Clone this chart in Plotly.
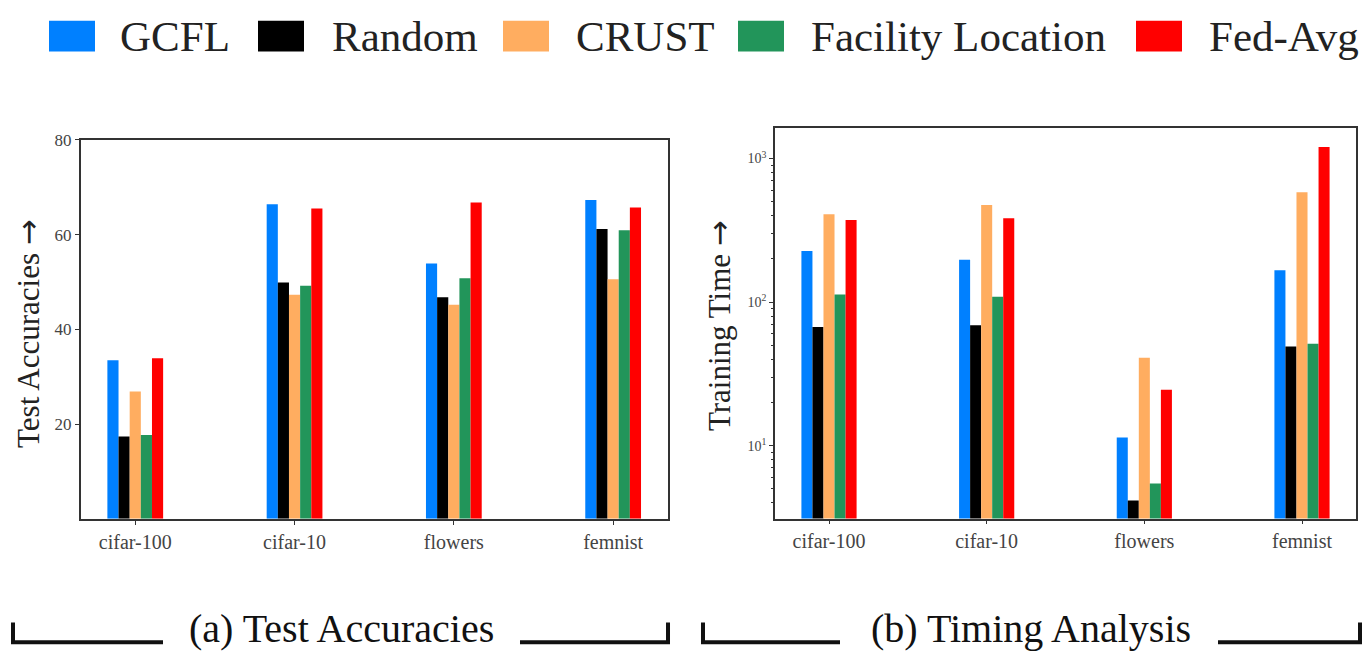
import plotly.graph_objects as go

W, H = 1363, 653

categories = ["cifar-100", "cifar-10", "flowers", "femnist"]
methods = ["GCFL", "Random", "CRUST", "Facility Location", "Fed-Avg"]
colors = ["#0080ff", "#000000", "#ffad60", "#22955a", "#ff0000"]

acc_gcfl = [33.5, 66.4, 53.9, 67.3]
acc_random = [17.4, 49.9, 46.8, 61.2]
acc_crust = [26.9, 47.3, 45.2, 50.6]
acc_facility = [17.7, 49.2, 50.8, 60.9]
acc_fedavg = [33.9, 65.5, 66.8, 65.7]

time_gcfl = [227, 197, 11.4, 167]
time_random = [67, 69, 4.16, 49]
time_crust = [409, 474, 41, 582]
time_facility = [113, 109, 5.46, 51.4]
time_fedavg = [374, 384, 24.5, 1205]

acc_ticks = [20, 40, 60, 80]
time_ticks = [10, 100, 1000]
time_ticktext = ["10<sup>1</sup>", "10<sup>2</sup>", "10<sup>3</sup>"]

acc_series = [acc_gcfl, acc_random, acc_crust, acc_facility, acc_fedavg]
time_series = [time_gcfl, time_random, time_crust, time_facility, time_fedavg]

SERIF = "Liberation Serif, Times New Roman, serif"
ARROW = "<span style='font-family:DejaVu Sans'>→</span>"


def px(x):
    return x / W


def py(y):
    return 1 - y / H


fig = go.Figure()
for name, col, vals in zip(methods, colors, acc_series):
    fig.add_trace(go.Bar(x=categories, y=vals, name=name, marker=dict(color=col, line=dict(width=0)),
                         xaxis="x", yaxis="y", offsetgroup=name, showlegend=False))
for name, col, vals in zip(methods, colors, time_series):
    fig.add_trace(go.Bar(x=categories, y=vals, name=name, marker=dict(color=col, line=dict(width=0)),
                         xaxis="x2", yaxis="y2", offsetgroup=name, showlegend=False))

axis_common = dict(showgrid=False, zeroline=False, showline=True, mirror=True,
                   linecolor="#333", linewidth=1.5, ticks="outside", ticklen=4,
                   tickcolor="#333")

xr = [-0.3425, 3.3425]
fig.update_layout(
    width=W, height=H, autosize=False,
    margin=dict(l=0, r=0, t=0, b=0),
    paper_bgcolor="white", plot_bgcolor="white",
    barmode="group", bargap=0.65, bargroupgap=0,
    font=dict(family=SERIF, color="#222"),
    xaxis=dict(domain=[px(80.7), px(667.7)], anchor="y", range=xr,
               tickfont=dict(size=20, color="#444"), **axis_common),
    yaxis=dict(domain=[py(517), py(132.7)], anchor="x", range=[0, 80],
               tickvals=acc_ticks, tickfont=dict(size=17, color="#444"), **axis_common),
    xaxis2=dict(domain=[px(775), px(1356)], anchor="y2", range=xr,
                tickfont=dict(size=20, color="#444"), **axis_common),
    yaxis2=dict(domain=[py(516.7), py(121)], anchor="x2", type="log",
                range=[0.4925, 3.2106], tickvals=time_ticks, ticktext=time_ticktext,
                tickfont=dict(size=14, color="#444"),
                minor=dict(ticks="outside", ticklen=2, tickcolor="#333",
                           tickvals=[m * d for d in (1, 10, 100, 1000) for m in range(2, 10)]),
                **axis_common),
)

# Axis titles
fig.add_annotation(text="Test Accuracies " + ARROW, xref="paper", yref="paper",
                   x=px(28), y=py(329.5), textangle=-90, showarrow=False,
                   xanchor="center", yanchor="middle",
                   font=dict(family=SERIF, size=31, color="#222"))
fig.add_annotation(text="Training Time " + ARROW, xref="paper", yref="paper",
                   x=px(719), y=py(321.5), textangle=-90, showarrow=False,
                   xanchor="center", yanchor="middle",
                   font=dict(family=SERIF, size=31, color="#222"))

# Legend (manual, large)
legend_sq_x = [49, 258, 503, 738, 1136]
legend_tx_x = [118, 330, 574, 809, 1207]
for name, col, sx, tx in zip(methods, colors, legend_sq_x, legend_tx_x):
    fig.add_shape(type="rect", xref="paper", yref="paper",
                  x0=px(sx), x1=px(sx + 46), y0=py(43), y1=py(12),
                  fillcolor=col, line=dict(width=0))
    fig.add_annotation(text=name, xref="paper", yref="paper", x=px(tx), y=py(28),
                       xanchor="left", yanchor="middle", showarrow=False,
                       font=dict(family=SERIF, size=43, color="#222"))

# Captions with brackets
for txt, cx in (("(a) Test Accuracies", 341.5), ("(b) Timing Analysis", 1031)):
    fig.add_annotation(text=txt, xref="paper", yref="paper",
                       x=px(cx), y=0, xanchor="center", yanchor="bottom",
                       showarrow=False, font=dict(family=SERIF, size=40, color="#111"))

brackets = [
    [(13, 622), (13, 642), (163, 642)],
    [(520, 642), (668, 642), (668, 622)],
    [(703, 622), (703, 642), (840, 642)],
    [(1218, 642), (1360, 642), (1360, 622)],
]
for pts in brackets:
    path = "M " + " L ".join(f"{px(a):.5f},{py(b):.5f}" for a, b in pts)
    fig.add_shape(type="path", xref="paper", yref="paper", path=path,
                  line=dict(color="#111", width=4))

fig.write_html(
    "out.html", config={"displayModeBar": False},
    post_script=("document.documentElement.style.margin='0';"
                 "document.body.style.margin='0';document.body.style.padding='0';"
                 "document.documentElement.style.overflow='hidden';"),
)
